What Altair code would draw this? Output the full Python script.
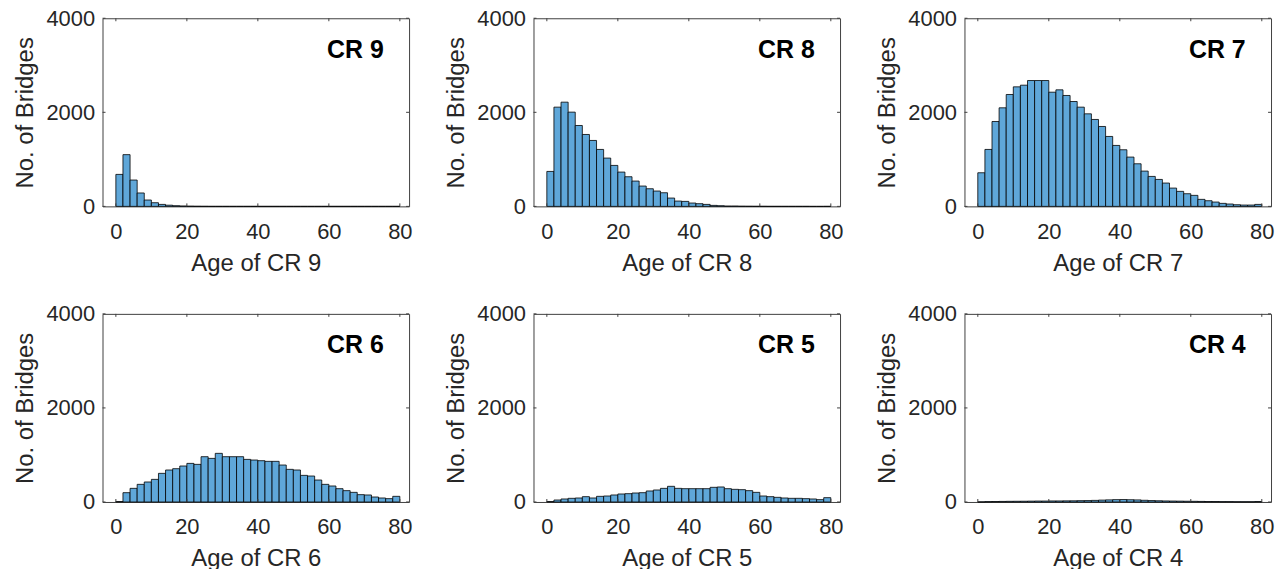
import altair as alt
import pandas as pd

# ---- data ----
BIN_START = list(range(0, 80, 2))  # histogram bin left edges (width 2)
BIN_WIDTH = 2
XTICKS = [0, 20, 40, 60, 80]
YTICKS = [0, 2000, 4000]

CR9 = [680, 1100, 560, 285, 135, 78, 42, 25, 14, 8, 5, 3, 2, 1, 1, 1, 1, 1, 1, 1,
       1, 1, 1, 1, 1, 1, 1, 1, 1, 1, 1, 1, 1, 1, 1, 1, 1, 1, 1, 1]
CR8 = [743, 2110, 2216, 2004, 1720, 1529, 1402, 1211, 1027, 871, 729, 630, 538, 432, 375, 326, 290, 177, 113, 106,
       71, 57, 42, 21, 14, 7, 7, 4, 3, 2, 2, 1, 1, 1, 1, 1, 1, 0, 0, 1]
CR7 = [715, 1211, 1805, 2096, 2379, 2542, 2577, 2676, 2676, 2676, 2428, 2478, 2358, 2230, 2110, 1968, 1848, 1699, 1487, 1296,
       1204, 1048, 906, 750, 637, 573, 496, 389, 319, 269, 234, 149, 120, 92, 64, 50, 35, 28, 28, 42]
CR6 = [10, 198, 290, 375, 425, 481, 609, 680, 708, 765, 821, 800, 963, 927, 1034, 963, 963, 963, 906, 892,
       878, 864, 864, 786, 694, 680, 566, 552, 467, 375, 340, 283, 241, 205, 156, 149, 106, 85, 71, 120]
CR5 = [10, 42, 64, 78, 85, 113, 85, 120, 127, 149, 170, 177, 191, 198, 234, 255, 290, 333, 290, 283,
       283, 283, 283, 312, 319, 283, 269, 262, 241, 205, 127, 113, 99, 85, 78, 78, 71, 64, 50, 92]
CR4 = [3, 8, 10, 12, 14, 15, 16, 18, 20, 20, 22, 22, 24, 25, 28, 30, 34, 40, 45, 50,
       52, 48, 44, 36, 30, 26, 22, 20, 18, 16, 14, 12, 10, 10, 8, 8, 6, 6, 6, 10]

PANELS = [("CR 9", CR9), ("CR 8", CR8), ("CR 7", CR7),
          ("CR 6", CR6), ("CR 5", CR5), ("CR 4", CR4)]

FONT = "Arial"
TXT = "#262626"
FILL = "#5fa7d9"
W, H = 308, 189


def panel(name, counts):
    df = pd.DataFrame({"start": BIN_START,
                       "end": [b + BIN_WIDTH for b in BIN_START],
                       "count": counts})
    xscale = alt.Scale(domain=[-3.76, 82.6], nice=False, zero=False)
    yscale = alt.Scale(domain=[0, 4000], nice=False)
    xtitle = f"Age of {name}"
    ytitle = "No. of Bridges"
    xaxis = alt.Axis(values=XTICKS, title=xtitle, format="d", labelPadding=15, titlePadding=9)
    yaxis = alt.Axis(values=YTICKS, title=ytitle, format="d", labelPadding=8, titlePadding=8)

    bars = alt.Chart(df).mark_bar(color=FILL, stroke="black", strokeWidth=0.8).encode(
        x=alt.X("start:Q", scale=xscale, axis=xaxis),
        x2="end:Q",
        y=alt.Y("count:Q", scale=yscale, axis=yaxis),
        y2=alt.datum(0),
    )
    xt = pd.DataFrame({"v": XTICKS})
    yt = pd.DataFrame({"v": YTICKS})
    tick_b = alt.Chart(xt).mark_rule(color="#404040", strokeWidth=1).encode(
        x=alt.X("v:Q", scale=xscale, axis=xaxis), y=alt.value(H), y2=alt.value(H - 3))
    tick_t = alt.Chart(xt).mark_rule(color="#404040", strokeWidth=1).encode(
        x=alt.X("v:Q", scale=xscale, axis=xaxis), y=alt.value(0), y2=alt.value(3))
    tick_l = alt.Chart(yt).mark_rule(color="#404040", strokeWidth=1).encode(
        y=alt.Y("v:Q", scale=yscale, axis=yaxis), x=alt.value(0), x2=alt.value(3))
    tick_r = alt.Chart(yt).mark_rule(color="#404040", strokeWidth=1).encode(
        y=alt.Y("v:Q", scale=yscale, axis=yaxis), x=alt.value(W), x2=alt.value(W - 3))
    label = alt.Chart(pd.DataFrame({"t": [name]})).mark_text(
        font=FONT, fontSize=25, fontWeight="bold", color="black",
        align="left", baseline="middle").encode(
        x=alt.datum(59.5), y=alt.datum(3330), text="t:N")
    return alt.layer(bars, tick_b, tick_t, tick_l, tick_r, label).properties(width=W, height=H)


chart = alt.concat(*[panel(n, c) for n, c in PANELS], columns=3,
                   spacing={"row": 26, "column": 31}).properties(
    padding={"left": 13, "top": 5, "right": 0, "bottom": 0}
).configure_view(stroke="#404040", strokeWidth=1).configure_axis(
    domain=False, ticks=False, tickSize=0, grid=False,
    labelFont=FONT, labelFontSize=22, labelColor=TXT,
    titleFont=FONT, titleFontSize=24, titleColor=TXT, titleFontWeight="normal",
)

chart.save("out.html", embed_options={"renderer": "svg", "actions": False})
